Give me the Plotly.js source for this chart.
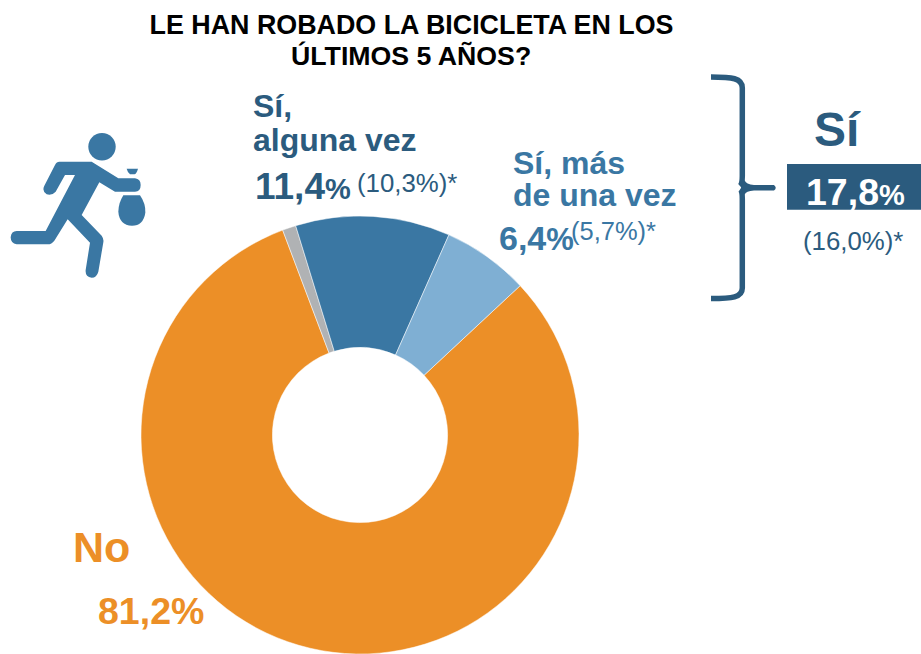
<!DOCTYPE html>
<html><head><meta charset="utf-8">
<script src="https://cdn.plot.ly/plotly-3.0.1.min.js"></script>
<style>html,body{margin:0;padding:0;background:#fff}#c{width:921px;height:654px}</style>
</head><body><div id="c"></div>
<script>
var categories = ['No', 'Ns/Nc', 'Sí, alguna vez', 'Sí, más de una vez'];
var values = [81.2, 1.0, 11.4, 6.4];
var sliceColors = ['#EC8F27', '#B0B2B4', '#3A77A3', '#7FAFD3'];
var titleLines = ['LE HAN ROBADO LA BICICLETA EN LOS', 'ÚLTIMOS 5 AÑOS?'];
var DARK = '#2B5B7E', MID = '#3A77A3', ORANGE = '#EC8F27';
var W = 921, H = 654;
function fx(x){return x / W;}
function fy(y){return 1 - y / H;}
function pathFrom(cmds){
  return cmds.map(function(c){
    var out = c[0], nums = c.slice(1), parts = [];
    for (var i = 0; i < nums.length; i += 2) parts.push(fx(nums[i]).toFixed(5) + ',' + fy(nums[i+1]).toFixed(5));
    return out + parts.join(' ');
  }).join(' ');
}
function iconPath(cmds){
  return pathFrom(cmds.map(function(c){
    return [c[0]].concat(c.slice(1).map(function(v, i){return i % 2 ? 90 + v / 3 : v / 3;}));
  }));
}
var icon = [
 [['M',178,215],['L',275,215],['L',355,265],['L',405,265],['Q',422,267,422,285],['Q',422,305,405,305],['L',345,305],['L',298,277],['L',245,375],['L',305,437],['Q',312,447,310,457],['L',295,545],['Q',290,563,275,563],['Q',255,560,257,540],['L',270,458],['L',203,388],['L',163,452],['Q',155,463,143,463],['L',50,463],['Q',32,460,32,442],['Q',34,423,50,423],['L',137,423],['L',225,255],['L',195,255],['L',167,305],['Q',155,318,140,313],['Q',125,303,133,287],['L',165,225],['Q',170,215,178,215],['Z']],
 [['M',370,316],['L',420,316],['Q',437,340,436,368],['Q',430,407,396,407],['Q',358,405,355,365],['Q',355,340,370,316],['Z']],
 [['M',380,236],['L',414,236],['Q',410,250,404,253],['L',390,253],['Q',383,248,380,236],['Z']]
];
var shapes = icon.map(function(p){
  return {type:'path', xref:'paper', yref:'paper', path:iconPath(p), fillcolor:MID, line:{width:0}};
});
shapes.push({type:'circle', xref:'paper', yref:'paper', x0:fx(88.3), x1:fx(115.7), y0:fy(160.4), y1:fy(133), fillcolor:MID, line:{width:0}});
shapes.push({type:'path', xref:'paper', yref:'paper', fillcolor:'rgba(0,0,0,0)', line:{color:DARK, width:5.5},
  path:pathFrom([['M',711,77],['C',732,77,742.3,78,742.3,88],['L',742.3,176],['Q',742.3,184,740,186]])});
shapes.push({type:'path', xref:'paper', yref:'paper', fillcolor:'rgba(0,0,0,0)', line:{color:DARK, width:5.5},
  path:pathFrom([['M',711,298.5],['C',732,298.5,742.3,297.5,742.3,288],['L',742.3,199],['Q',742.3,191,740,189.5]])});
shapes.push({type:'path', xref:'paper', yref:'paper', fillcolor:DARK, line:{width:0},
  path:pathFrom([['M',744.5,180],['Q',746,184.5,754,184.9],['L',774,184.9],['Q',777.5,187.7,774,190.6],['L',754,190.6],['Q',746,191,744.5,195],['L',741,187.7],['Z']])});
shapes.push({type:'rect', xref:'paper', yref:'paper', x0:fx(787), x1:fx(921), y0:fy(209.7), y1:fy(164), fillcolor:DARK, line:{width:0}});

function label(x, y, text, size, color, bold){
  return {xref:'paper', yref:'paper', x:fx(x), y:fy(y), xanchor:'left', yanchor:'middle', showarrow:false,
    align:'left', borderpad:0, text: bold ? '<b>' + text + '</b>' : text,
    font:{family:'Liberation Sans, Arial, sans-serif', size:size, color:color}};
}
function pct(num, small){
  return num + '<span style="font-size:' + small + 'px">%</span>';
}
var annotations = [
  {xref:'paper', yref:'paper', x:fx(411), y:fy(56), xanchor:'center', yanchor:'middle', showarrow:false, borderpad:0,
   text:'<b>' + titleLines[1] + '</b>', font:{family:'Liberation Sans, Arial, sans-serif', size:26.7, color:'#000'}},
  label(252,105.5,'Sí,',32,DARK,true),
  label(252,140,'alguna vez',32,DARK,true),
  label(254,186,pct('11,4',29),37,DARK,true),
  label(356,183,'(10,3%)*',25.8,DARK,false),
  label(512,163,'Sí, más',32,MID,true),
  label(512,194.5,'de una vez',32,MID,true),
  label(498,238,pct('6,4',31),34,MID,true),
  label(570,231,'(5,7%)*',25.5,MID,false),
  label(813,129,'Sí',48,DARK,true),
  label(805,192,pct('17,8',29),37.5,'#FFFFFF',true),
  label(802,241,'(16,0%)*',25.8,DARK,false),
  label(71.5,547,'No',43,ORANGE,true),
  label(97,611,'81,2%',37.5,ORANGE,true)
];
var trace = {type:'pie', values:values, labels:categories, sort:false, direction:'clockwise', rotation:47, hole:0.4,
  marker:{colors:sliceColors, line:{color:'#FFFFFF', width:0.5}}, textinfo:'none', hoverinfo:'label+value',
  domain:{x:[141/W, 579/W], y:[0, 438/H]}, showlegend:false};
var layout = {width:W, height:H, margin:{l:0,r:0,t:0,b:0}, paper_bgcolor:'#fff', showlegend:false,
  title:{text:'<b>' + titleLines[0] + '</b>', x:411.5/W, xanchor:'center', y:fy(25), yanchor:'middle',
    font:{family:'Liberation Sans, Arial, sans-serif', size:26.85, color:'#000'}},
  shapes:shapes, annotations:annotations};
Plotly.newPlot('c', [trace], layout, {displayModeBar:false, responsive:false});
</script></body></html>
